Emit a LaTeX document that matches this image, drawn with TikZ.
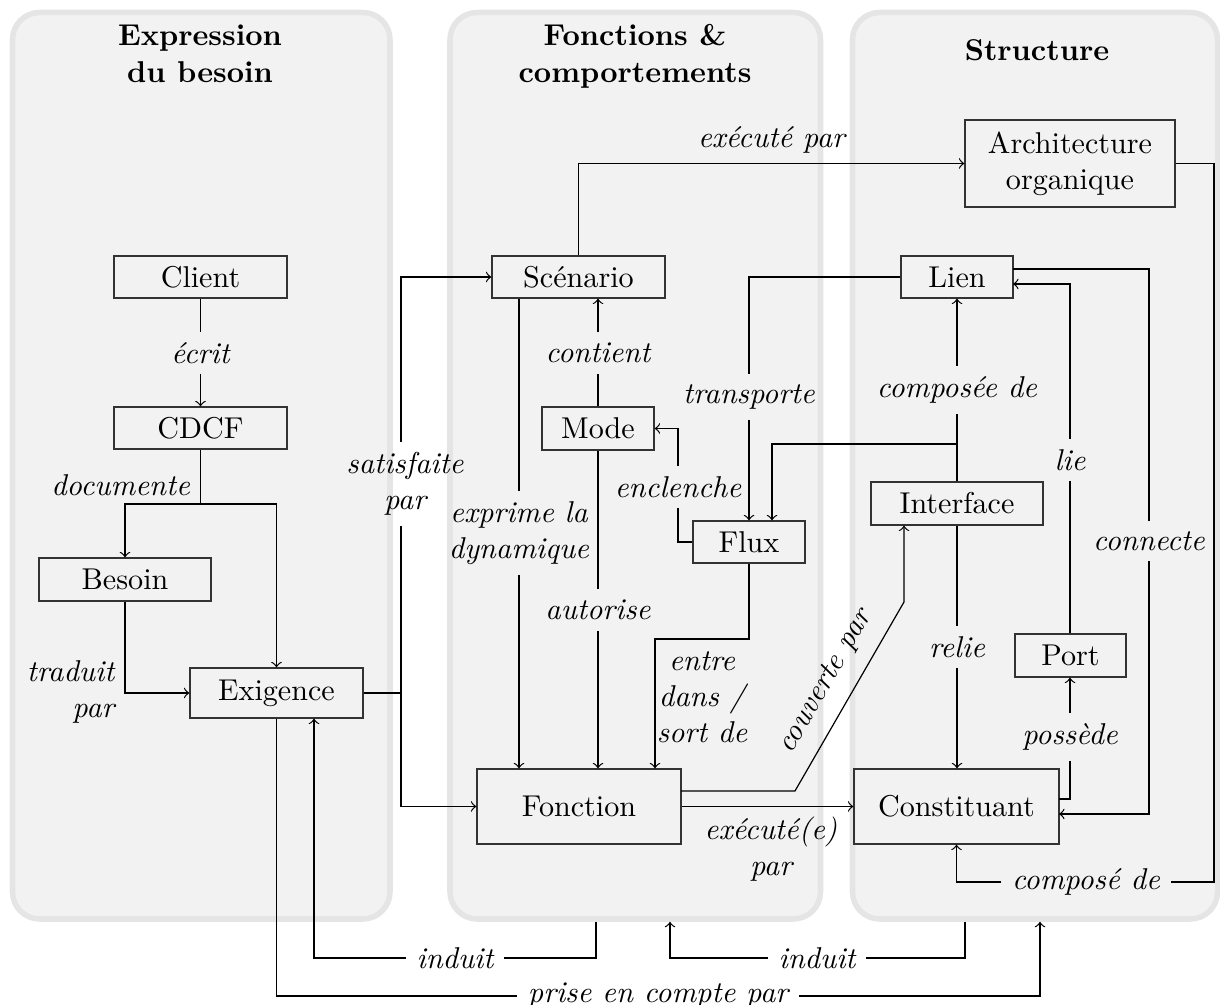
\documentclass[tikz,border=0pt]{standalone}
\begin{document}
\begin{tikzpicture}[x=0.332pt,y=-0.332pt,>=to,
  panel/.style={draw=black!10, fill=black!5, line width=1.83pt, rounded corners=9pt, inner sep=0pt, minimum width=#1*0.332pt, minimum height=906.5*0.332pt},
  box/.style 2 args={draw=black!80, inner sep=0pt, minimum width=#1*0.332pt, minimum height=#2*0.332pt, align=center},
  lbl/.style={font=\itshape},
  ttl/.style={font=\bfseries, anchor=base, inner sep=0pt}]
\useasboundingbox (0,0) rectangle (1220,1005);
% panels
\node[panel=377.5] (P1) at (201.25,465.75) {};
\node[panel=370.5] (P2) at (635.25,465.75) {};
\node[panel=365] (P3) at (1035,465.75) {};
% titles
\node[ttl] (t1a) at (200,45.7) {Expression};
\node[ttl] (t1b) at (200,83) {du besoin};
\node[ttl] (t2a) at (635,45.7) {Fonctions \&};
\node[ttl] (t2b) at (635,83) {comportements};
\node[ttl] (t3) at (1037,61) {Structure};
% boxes
\node[box={173}{42}] (Client) at (200.5,277) {Client};
\node[box={173}{42}] (CDCF) at (200.5,428) {CDCF};
\node[box={172}{43}] (Besoin) at (125,579.5) {Besoin};
\node[box={173}{50}] (Exigence) at (276.5,693) {Exigence};
\node[box={173}{42}] (Scenario) at (578.5,277) {Scénario};
\node[box={112}{43}] (Mode) at (598,428.5) {Mode};
\node[box={112}{42}] (Flux) at (749,542) {Flux};
\node[box={204}{75}] (Fonction) at (579,806.5) {Fonction};
\node[box={210}{87}] (Archi) at (1070,163.5) {Architecture\\organique};
\node[box={112}{42}] (Lien) at (957,277) {Lien};
\node[box={172}{43}] (Interface) at (957,503.5) {Interface};
\node[box={111}{43}] (Port) at (1070.5,655.5) {Port};
\node[box={205}{75}] (Constituant) at (956.5,806.5) {Constituant};
% labels
\node[lbl] (ecrit) at (200.5,353) {écrit};
\node[lbl,anchor=east] (documente) at (200.5,485) {documente};
\node[lbl,align=right,anchor=east] (traduit) at (125,692) {traduit\\par};
\node[lbl,align=center] (satisf) at (405,484) {satisfaite\\par};
\node[lbl] (contient) at (598,353) {contient};
\node[lbl,align=center] (exprime) at (519,533) {exprime la\\dynamique};
\node[lbl] (autorise) at (598,610) {autorise};
\node[lbl] (enclenche) at (678,487) {enclenche};
\node[lbl] (transporte) at (749,397) {transporte};
\node[lbl] (composee) at (957,390) {composée de};
\node[lbl] (lie) at (1070,460) {lie};
\node[lbl] (connecte) at (1149,541) {connecte};
\node[lbl] (relie) at (957,647) {relie};
\node[lbl] (possede) at (1070,737) {possède};
\node[lbl,align=center] (entre) at (702,697) {entre\\dans /\\sort de};
\node[lbl,rotate=60] (couverte) at (826,682) {couverte par};
\node[lbl,align=center] (executee) at (771,849) {exécuté(e)\\par};
\node[lbl] (compose) at (1086,882) {composé de};
\node[lbl] (induitA) at (455,958) {induit};
\node[lbl] (induitB) at (817,958) {induit};
\node[lbl] (prise) at (658,996) {prise en compte par};
% coordinates
\coordinate (j1) at (200.5,504);
\coordinate (j2) at (401,693);
\coordinate (j3) at (957,444);
\coordinate (j4) at (772,444);
\coordinate (e1) at (749,639);
\coordinate (e2) at (655,639);
\coordinate (fout) at (681,791);
\coordinate (k1) at (795,791);
\coordinate (k2) at (904,602);
\coordinate (lienin) at (1013,284);
\coordinate (lienout) at (1013,269);
\coordinate (constin) at (1059,814);
\coordinate (constout) at (1059,799);
\coordinate (c1) at (1214,882);
\coordinate (ia1) at (596,958);
\coordinate (ia2) at (314,958);
\coordinate (ib1) at (965,958);
\coordinate (ib2) at (670,958);
\coordinate (pc1) at (276.5,996);
\coordinate (pc2) at (1040,996);
% connectors
\draw (Client) -- (ecrit);
\draw[->] (ecrit) -- (CDCF);
\draw (CDCF) -- (j1);
\draw[->] (j1) -| (Besoin);
\draw[->] (j1) -| (Exigence);
\draw[->] (Besoin) |- (Exigence);
\draw (Exigence) -- (j2) -- (satisf.south -| j2);
\draw[->] (satisf.north -| j2) |- (Scenario);
\draw[->] (j2) |- (Fonction);
\draw[->] (Scenario) |- node[lbl,above,pos=0.75] (execpar) {exécuté par} (Archi);
\draw (exprime |- Scenario.south) -- (exprime);
\draw[->] (exprime) -- (exprime |- Fonction.north);
\draw (Mode) -- (contient);
\draw[->] (contient) -- (Scenario.south -| contient);
\draw (Mode) -- (autorise);
\draw[->] (autorise) -- (Fonction.north -| autorise);
\draw (Flux) -| (enclenche);
\draw[->] (enclenche) |- (Mode);
\draw (Lien) -| (transporte);
\draw[->] (transporte) -- (Flux.north -| transporte);
\draw[->] (Flux) -- (e1) -- (e2) -- (Fonction.north -| e2);
\draw (Interface) -- (composee);
\draw[->] (composee) -- (Lien);
\draw[->] (Interface.north) -- (j3) -- (j4) -- (Flux.north -| j4);
\draw (Interface) -- (relie);
\draw[->] (relie) -- (Constituant.north -| relie);
\draw (Port.north -| lie) -- (lie);
\draw[->] (lie) |- (lienin);
\draw (lienout) -| (connecte);
\draw[->] (connecte) |- (constin);
\draw (constout) -| (possede);
\draw[->] (possede) -- (Port.south -| possede);
\draw (Archi) -| (c1) -- (compose);
\draw[->] (compose) -| (Constituant);
\draw[->] (fout) -- (k1) -- (k2) -- (Interface.south -| k2);
\draw[->] (Fonction) -- (Constituant);
\draw (P2.south -| ia1) -- (ia1) -- (induitA);
\draw[->] (induitA) -- (ia2) -- (ia2 |- Exigence.south);
\draw (P3.south -| ib1) -- (ib1) -- (induitB);
\draw[->] (induitB) -- (ib2) -- (ib2 |- P2.south);
\draw (Exigence) -- (pc1) -- (prise);
\draw[->] (prise) -- (pc2) -- (pc2 |- P3.south);
\end{tikzpicture}
\end{document}
